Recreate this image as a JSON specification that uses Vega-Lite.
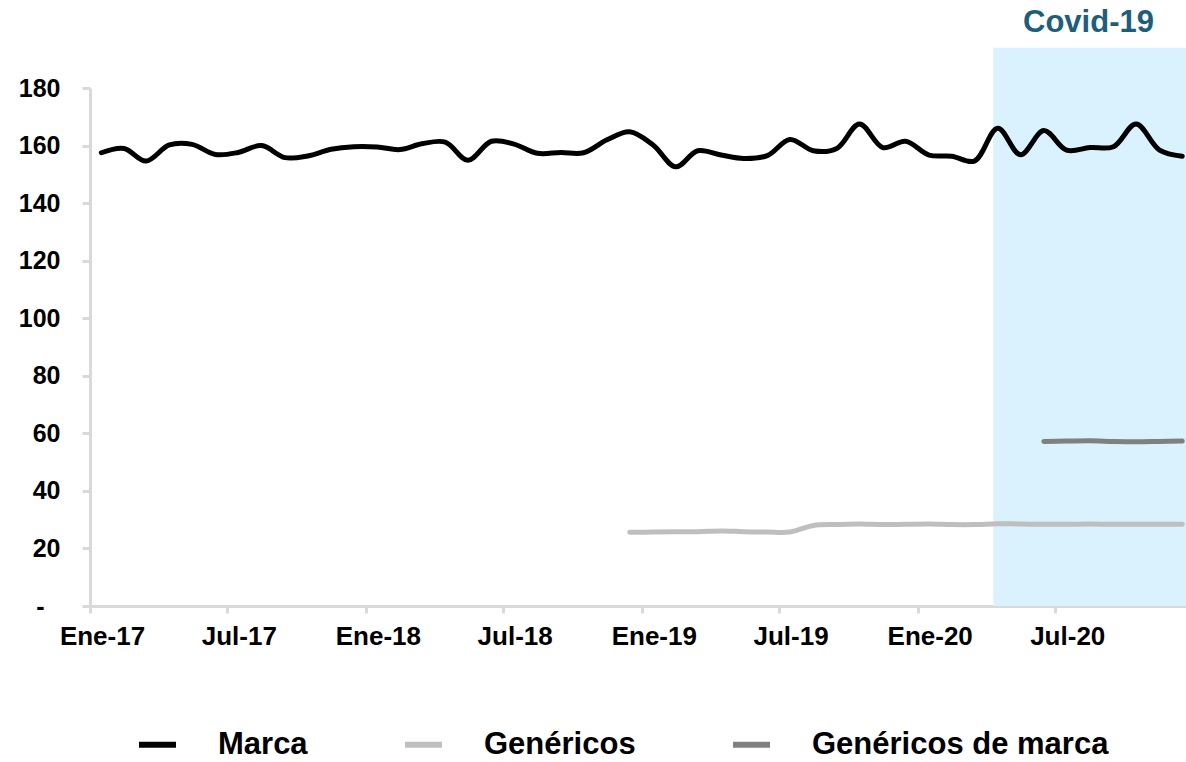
{
  "$schema": "https://vega.github.io/schema/vega-lite/v6.json",
  "autosize": {"type": "none"},
  "padding": {"left": 90, "top": 88, "right": 0, "bottom": 156},
  "width": 1096,
  "height": 518,
  "background": "white",
  "config": {
    "view": {"stroke": null},
    "font": "Liberation Sans",
    "axis": {
      "domainColor": "#D9D9D9", "domainWidth": 3,
      "tickColor": "#D9D9D9", "tickWidth": 3,
      "grid": false, "title": null,
      "labelFont": "Liberation Sans", "labelFontWeight": "bold", "labelColor": "#000000"
    }
  },
  "datasets": {
    "series": [
      {"fecha": "2017-01-16", "serie": "Marca", "valor": 157.5},
      {"fecha": "2017-02-15", "serie": "Marca", "valor": 159.0},
      {"fecha": "2017-03-16", "serie": "Marca", "valor": 154.6},
      {"fecha": "2017-04-16", "serie": "Marca", "valor": 160.2},
      {"fecha": "2017-05-16", "serie": "Marca", "valor": 160.4},
      {"fecha": "2017-06-16", "serie": "Marca", "valor": 156.9},
      {"fecha": "2017-07-16", "serie": "Marca", "valor": 157.6},
      {"fecha": "2017-08-16", "serie": "Marca", "valor": 160.0},
      {"fecha": "2017-09-16", "serie": "Marca", "valor": 155.8},
      {"fecha": "2017-10-16", "serie": "Marca", "valor": 156.4},
      {"fecha": "2017-11-16", "serie": "Marca", "valor": 158.7},
      {"fecha": "2017-12-16", "serie": "Marca", "valor": 159.6},
      {"fecha": "2018-01-16", "serie": "Marca", "valor": 159.5},
      {"fecha": "2018-02-15", "serie": "Marca", "valor": 158.6},
      {"fecha": "2018-03-16", "serie": "Marca", "valor": 160.6},
      {"fecha": "2018-04-16", "serie": "Marca", "valor": 161.2},
      {"fecha": "2018-05-16", "serie": "Marca", "valor": 154.9},
      {"fecha": "2018-06-16", "serie": "Marca", "valor": 161.5},
      {"fecha": "2018-07-16", "serie": "Marca", "valor": 160.5},
      {"fecha": "2018-08-16", "serie": "Marca", "valor": 157.3},
      {"fecha": "2018-09-16", "serie": "Marca", "valor": 157.6},
      {"fecha": "2018-10-16", "serie": "Marca", "valor": 157.5},
      {"fecha": "2018-11-16", "serie": "Marca", "valor": 162.0},
      {"fecha": "2018-12-16", "serie": "Marca", "valor": 164.8},
      {"fecha": "2019-01-16", "serie": "Marca", "valor": 160.2},
      {"fecha": "2019-02-15", "serie": "Marca", "valor": 152.6},
      {"fecha": "2019-03-16", "serie": "Marca", "valor": 158.2},
      {"fecha": "2019-04-16", "serie": "Marca", "valor": 156.7},
      {"fecha": "2019-05-16", "serie": "Marca", "valor": 155.5},
      {"fecha": "2019-06-16", "serie": "Marca", "valor": 156.5},
      {"fecha": "2019-07-16", "serie": "Marca", "valor": 162.1},
      {"fecha": "2019-08-16", "serie": "Marca", "valor": 158.2},
      {"fecha": "2019-09-16", "serie": "Marca", "valor": 159.0},
      {"fecha": "2019-10-16", "serie": "Marca", "valor": 167.5},
      {"fecha": "2019-11-16", "serie": "Marca", "valor": 159.3},
      {"fecha": "2019-12-16", "serie": "Marca", "valor": 161.5},
      {"fecha": "2020-01-16", "serie": "Marca", "valor": 156.7},
      {"fecha": "2020-02-15", "serie": "Marca", "valor": 156.3},
      {"fecha": "2020-03-16", "serie": "Marca", "valor": 154.6},
      {"fecha": "2020-04-16", "serie": "Marca", "valor": 166.0},
      {"fecha": "2020-05-16", "serie": "Marca", "valor": 156.8},
      {"fecha": "2020-06-16", "serie": "Marca", "valor": 165.2},
      {"fecha": "2020-07-16", "serie": "Marca", "valor": 158.4},
      {"fecha": "2020-08-16", "serie": "Marca", "valor": 159.3},
      {"fecha": "2020-09-16", "serie": "Marca", "valor": 159.6},
      {"fecha": "2020-10-16", "serie": "Marca", "valor": 167.5},
      {"fecha": "2020-11-16", "serie": "Marca", "valor": 158.4},
      {"fecha": "2020-12-16", "serie": "Marca", "valor": 156.3},
      {"fecha": "2018-12-16", "serie": "Genéricos", "valor": 25.6},
      {"fecha": "2019-01-16", "serie": "Genéricos", "valor": 25.7},
      {"fecha": "2019-02-15", "serie": "Genéricos", "valor": 25.8},
      {"fecha": "2019-03-16", "serie": "Genéricos", "valor": 25.8},
      {"fecha": "2019-04-16", "serie": "Genéricos", "valor": 26.1},
      {"fecha": "2019-05-16", "serie": "Genéricos", "valor": 25.8},
      {"fecha": "2019-06-16", "serie": "Genéricos", "valor": 25.7},
      {"fecha": "2019-07-16", "serie": "Genéricos", "valor": 25.7},
      {"fecha": "2019-08-16", "serie": "Genéricos", "valor": 28.0},
      {"fecha": "2019-09-16", "serie": "Genéricos", "valor": 28.3},
      {"fecha": "2019-10-16", "serie": "Genéricos", "valor": 28.5},
      {"fecha": "2019-11-16", "serie": "Genéricos", "valor": 28.3},
      {"fecha": "2019-12-16", "serie": "Genéricos", "valor": 28.4},
      {"fecha": "2020-01-16", "serie": "Genéricos", "valor": 28.5},
      {"fecha": "2020-02-15", "serie": "Genéricos", "valor": 28.3},
      {"fecha": "2020-03-16", "serie": "Genéricos", "valor": 28.3},
      {"fecha": "2020-04-16", "serie": "Genéricos", "valor": 28.6},
      {"fecha": "2020-05-16", "serie": "Genéricos", "valor": 28.5},
      {"fecha": "2020-06-16", "serie": "Genéricos", "valor": 28.4},
      {"fecha": "2020-07-16", "serie": "Genéricos", "valor": 28.4},
      {"fecha": "2020-08-16", "serie": "Genéricos", "valor": 28.5},
      {"fecha": "2020-09-16", "serie": "Genéricos", "valor": 28.4},
      {"fecha": "2020-10-16", "serie": "Genéricos", "valor": 28.4},
      {"fecha": "2020-11-16", "serie": "Genéricos", "valor": 28.4},
      {"fecha": "2020-12-16", "serie": "Genéricos", "valor": 28.4},
      {"fecha": "2020-06-16", "serie": "Genéricos de marca", "valor": 57.2},
      {"fecha": "2020-07-16", "serie": "Genéricos de marca", "valor": 57.3},
      {"fecha": "2020-08-16", "serie": "Genéricos de marca", "valor": 57.4},
      {"fecha": "2020-09-16", "serie": "Genéricos de marca", "valor": 57.2},
      {"fecha": "2020-10-16", "serie": "Genéricos de marca", "valor": 57.1},
      {"fecha": "2020-11-16", "serie": "Genéricos de marca", "valor": 57.2},
      {"fecha": "2020-12-16", "serie": "Genéricos de marca", "valor": 57.3}
    ],
    "periodo": [
      {"periodo": "Covid-19", "inicio": "2020-04-10", "fin": "2020-12-31"}
    ]
  },
  "layer": [
    {
      "data": {"name": "periodo"},
      "mark": {"type": "rect", "color": "#DAF2FD", "opacity": 1},
      "encoding": {
        "x": {"field": "inicio", "type": "temporal", "scale": {"type": "utc"}},
        "x2": {"field": "fin"},
        "y": {"datum": 0, "type": "quantitative"},
        "y2": {"datum": 194}
      }
    },
    {
      "data": {"name": "periodo"},
      "mark": {"type": "text", "color": "#1D5E7C", "font": "Liberation Sans", "fontSize": 31, "fontWeight": "bold", "align": "center", "baseline": "middle"},
      "encoding": {
        "x": {"datum": {"year": 2020, "month": 8, "date": 14, "utc": true}, "type": "temporal"},
        "y": {"datum": 202.5, "type": "quantitative"},
        "text": {"field": "periodo"}
      }
    },
    {
      "data": {"name": "series"},
      "mark": {"type": "line", "strokeWidth": 5, "strokeCap": "round", "interpolate": "catmull-rom"},
      "encoding": {
        "x": {
          "field": "fecha", "type": "temporal",
          "scale": {"type": "utc", "domain": [{"year": 2017, "month": 1, "date": 1, "utc": true}, {"year": 2020, "month": 12, "date": 21, "utc": true}]},
          "axis": {
            "values": [
              {"year": 2017, "month": 1, "date": 1, "utc": true},
              {"year": 2017, "month": 7, "date": 1, "utc": true},
              {"year": 2018, "month": 1, "date": 1, "utc": true},
              {"year": 2018, "month": 7, "date": 1, "utc": true},
              {"year": 2019, "month": 1, "date": 1, "utc": true},
              {"year": 2019, "month": 7, "date": 1, "utc": true},
              {"year": 2020, "month": 1, "date": 1, "utc": true},
              {"year": 2020, "month": 7, "date": 1, "utc": true}
            ],
            "labelExpr": "(utcmonth(datum.value) == 0 ? 'Ene-' : 'Jul-') + utcFormat(datum.value, '%y')",
            "labelFontSize": 26, "labelOffset": 12, "tickSize": 7, "labelPadding": 10,
            "labelOverlap": false, "labelBound": false, "labelFlush": false
          }
        },
        "y": {
          "field": "valor", "type": "quantitative",
          "scale": {"domain": [0, 180], "nice": false},
          "axis": {
            "values": [0, 20, 40, 60, 80, 100, 120, 140, 160, 180],
            "labelExpr": "datum.value == 0 ? '-' : datum.label",
            "labelFontSize": 25, "tickSize": 8,
            "labelPadding": {"condition": {"test": "datum.value == 0", "value": 38}, "value": 22}
          }
        },
        "color": {
          "field": "serie", "type": "nominal",
          "scale": {"domain": ["Marca", "Genéricos", "Genéricos de marca"], "range": ["#000000", "#BFBFBF", "#808080"]},
          "legend": {
            "title": null, "orient": "none", "legendX": 46, "legendY": 635,
            "direction": "horizontal", "columns": 3, "columnPadding": 85,
            "symbolType": "stroke", "symbolSize": 1369, "symbolStrokeWidth": 6,
            "labelOffset": 39, "labelFont": "Liberation Sans", "labelFontWeight": "bold",
            "labelFontSize": 31, "labelColor": "#000000", "labelLimit": 600
          }
        }
      }
    }
  ]
}
